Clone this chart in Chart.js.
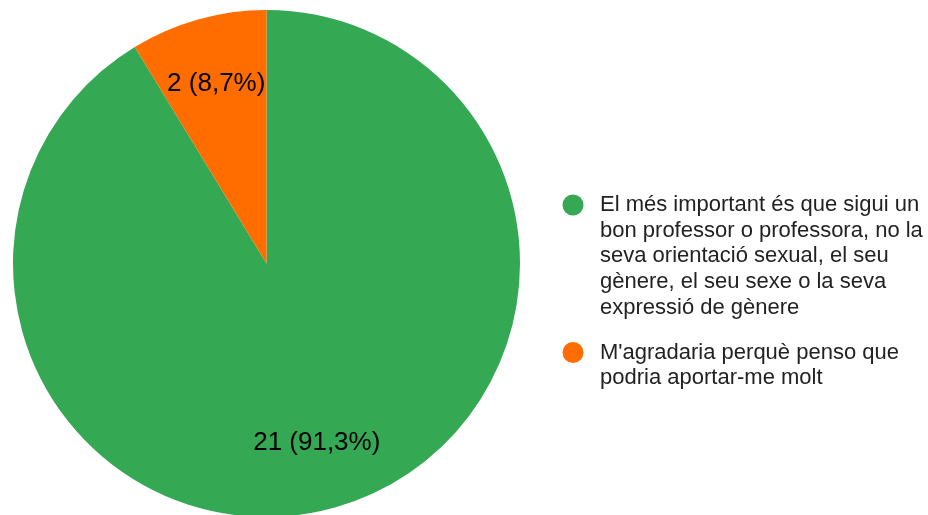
<!DOCTYPE html>
<html>
<head>
<meta charset="utf-8">
<script src="https://cdn.jsdelivr.net/npm/chart.js@4.4.1/dist/chart.umd.min.js"></script>
<style>
  html, body { margin: 0; padding: 0; background: #fff; overflow: hidden; }
  #wrap { width: 928px; height: 515px; overflow: hidden; }
</style>
</head>
<body>
<div id="wrap"><canvas id="myChart" width="928" height="517"></canvas></div>
<script>
// answers and how many people picked each one
const categories = [
  'El més important és que sigui un bon professor o professora, no la seva orientació sexual, el seu gènere, el seu sexe o la seva expressió de gènere',
  "M'agradaria perquè penso que podria aportar-me molt"
];
const counts = [21, 2];
const colors = ['#34a853', '#ff6d01'];

const total = counts.reduce((a, b) => a + b, 0);

function pctLabel(v) {
  return v + ' (' + (v / total * 100).toFixed(1).replace('.', ',') + '%)';
}

// value labels inside the slices
const sliceLabels = {
  id: 'sliceLabels',
  afterDatasetsDraw(chart) {
    const ctx = chart.ctx;
    const meta = chart.getDatasetMeta(0);
    ctx.save();
    ctx.font = '26px "Liberation Sans", Arial, sans-serif';
    ctx.fillStyle = '#000';
    ctx.textAlign = 'center';
    ctx.textBaseline = 'middle';
    meta.data.forEach((arc, i) => {
      const p = arc.getProps(['x', 'y', 'startAngle', 'endAngle', 'outerRadius'], true);
      const mid = (p.startAngle + p.endAngle) / 2;
      const r = p.outerRadius * 0.735;
      ctx.fillText(pctLabel(counts[i]), p.x + Math.cos(mid) * r, p.y + Math.sin(mid) * r);
    });
    ctx.restore();
  }
};

// legend on the right with wrapped text
const sideLegend = {
  id: 'sideLegend',
  afterDraw(chart) {
    const ctx = chart.ctx;
    const font = '22px "Liberation Sans", Arial, sans-serif';
    const maxW = 328;
    const lineH = 25.7;
    let y = 205;
    ctx.save();
    ctx.font = font;
    ctx.textBaseline = 'middle';
    categories.forEach((label, i) => {
      // wrap words
      const words = label.split(' ');
      const lines = [];
      let cur = '';
      words.forEach(w => {
        const test = cur ? cur + ' ' + w : w;
        if (ctx.measureText(test).width > maxW && cur) {
          lines.push(cur);
          cur = w;
        } else {
          cur = test;
        }
      });
      if (cur) lines.push(cur);

      ctx.fillStyle = colors[i];
      ctx.beginPath();
      ctx.arc(573, y, 10.5, 0, Math.PI * 2);
      ctx.fill();

      ctx.fillStyle = '#222';
      lines.forEach((ln, j) => {
        ctx.fillText(ln, 600, y + j * lineH);
      });
      y += lines.length * lineH + 19;
    });
    ctx.restore();
  }
};

const data = {
  labels: categories,
  datasets: [{
    data: counts,
    backgroundColor: colors,
    borderWidth: 0
  }]
};

const config = {
  type: 'pie',
  data: data,
  options: {
    responsive: false,
    animation: false,
    events: [],
    layout: {
      padding: { left: 13, top: 10, right: 408, bottom: 0 }
    },
    plugins: {
      legend: { display: false },
      tooltip: { enabled: false }
    }
  },
  plugins: [sliceLabels, sideLegend]
};

document.addEventListener('DOMContentLoaded', () => {
  new Chart(document.getElementById('myChart'), config);
});
</script>
</body>
</html>
